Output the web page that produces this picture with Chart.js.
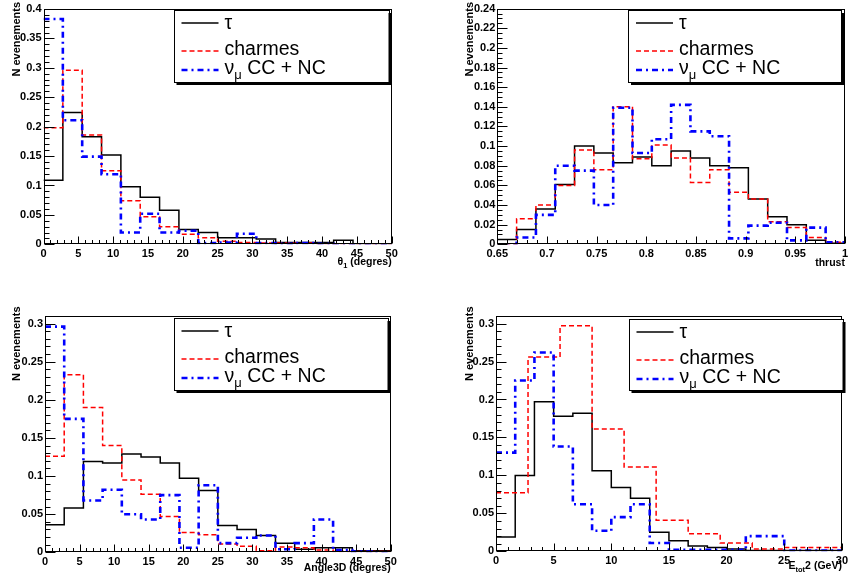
<!DOCTYPE html>
<html>
<head>
<meta charset="utf-8">
<script src="https://cdn.jsdelivr.net/npm/chart.js@4.4.1/dist/chart.umd.min.js"></script>
<style>
  body { margin: 0; background: #fff; width: 851px; height: 579px; position: relative; overflow: hidden; }
  canvas { position: absolute; }
</style>
</head>
<body>
<canvas id="p1" style="left:0;top:0" width="425" height="290"></canvas>
<canvas id="p2" style="left:440px;top:0" width="411" height="290"></canvas>
<canvas id="p3" style="left:0;top:290px" width="425" height="289"></canvas>
<canvas id="p4" style="left:440px;top:290px" width="411" height="289"></canvas>
<script>
// histogram contents, 18 bins each unless noted
const theta1Range = [0, 50];
const theta1Tau   = [0.109, 0.224, 0.183, 0.152, 0.098, 0.080, 0.058, 0.025, 0.020, 0.011, 0.011, 0.009, 0.003, 0.003, 0.003, 0.007, 0.001, 0.001];
const theta1Charm = [0.198, 0.296, 0.186, 0.125, 0.074, 0.047, 0.030, 0.017, 0.011, 0.005, 0.003, 0.002, 0.002, 0.002, 0.001, 0.001, 0.001, 0.001];
const theta1Numu  = [0.383, 0.211, 0.149, 0.119, 0.020, 0.052, 0.020, 0.023, 0.002, 0.003, 0.018, 0.002, 0.001, 0.002, 0.001, 0.000, 0.000, 0.000];

const thrustRange = [0.65, 1.0];
const thrustTau   = [0.005, 0.015, 0.036, 0.061, 0.100, 0.093, 0.083, 0.089, 0.080, 0.095, 0.088, 0.080, 0.078, 0.046, 0.028, 0.020, 0.004, 0.001];
const thrustCharm = [0.000, 0.026, 0.040, 0.060, 0.096, 0.076, 0.140, 0.087, 0.101, 0.088, 0.063, 0.076, 0.053, 0.046, 0.023, 0.017, 0.007, 0.002];
const thrustNumu  = [0.000, 0.007, 0.030, 0.080, 0.075, 0.040, 0.139, 0.093, 0.107, 0.142, 0.115, 0.110, 0.006, 0.019, 0.022, 0.004, 0.017, 0.002];

const angleRange = [0, 50];
const angleTau   = [0.036, 0.058, 0.119, 0.117, 0.129, 0.125, 0.117, 0.097, 0.081, 0.035, 0.030, 0.022, 0.012, 0.004, 0.006, 0.006, 0.002, 0.002];
const angleCharm = [0.126, 0.233, 0.190, 0.140, 0.095, 0.076, 0.047, 0.026, 0.023, 0.011, 0.008, 0.002, 0.007, 0.006, 0.003, 0.001, 0.001, 0.001];
const angleNumu  = [0.296, 0.175, 0.068, 0.082, 0.050, 0.043, 0.075, 0.006, 0.088, 0.012, 0.019, 0.022, 0.004, 0.012, 0.043, 0.003, 0.001, 0.000];

const etotRange = [0, 30];
const etotTau   = [0.019, 0.100, 0.197, 0.178, 0.182, 0.106, 0.084, 0.070, 0.025, 0.014, 0.007, 0.005, 0.003, 0.001, 0.001, 0.001, 0.001, 0.001];
const etotNumu  = [0.130, 0.225, 0.262, 0.138, 0.062, 0.027, 0.045, 0.062, 0.011, 0.002, 0.002, 0.002, 0.002, 0.020, 0.020, 0.001, 0.001, 0.001];
// charmes here was filled with 0-50 binning (18 bins), only the visible ones
const etotCharmRange = [0, 50];
const etotCharm = [0.077, 0.256, 0.297, 0.161, 0.111, 0.041, 0.023, 0.011, 0.003, 0.005, 0.005];

const legendLabels = ['τ', 'charmes', 'ν'];

// bin contents -> step points (left edge of each bin + closing right edge)
function steps(values, range, nbins) {
  const w = (range[1] - range[0]) / nbins;
  const pts = values.map((v, i) => ({ x: range[0] + i * w, y: v }));
  pts.push({ x: range[0] + values.length * w, y: values[values.length - 1] });
  return pts;
}

const styles = {
  tau:   { borderColor: '#000000', borderWidth: 1.5, borderDash: [] },
  charm: { borderColor: '#ff0000', borderWidth: 1.5, borderDash: [5, 3] },
  numu:  { borderColor: '#0000ff', borderWidth: 2.6, borderDash: [6, 4, 2, 4] }
};

const fmt = v => String(+Number(v).toFixed(3));

const rootDecor = {
  id: 'rootDecor',
  afterDatasetsDraw(chart, args, o) {
    const { ctx, chartArea: a, scales: { x, y } } = chart;
    ctx.save();
    ctx.strokeStyle = '#000';
    ctx.lineWidth = 1;
    const L = Math.round(a.left) + 0.5, R = Math.round(a.right) - 0.5;
    const T = Math.round(a.top) + 0.5, B = Math.round(a.bottom) - 0.5;
    ctx.strokeRect(L, T, R - L, B - T);
    ctx.beginPath();
    // x ticks (inside)
    const xMajLen = 7, xMinLen = 3.5, yMajLen = 10, yMinLen = 5;
    for (let v = x.min; v <= x.max + 1e-9; v += o.xMinor) {
      const px = Math.round(x.getPixelForValue(v)) + 0.5;
      const isMaj = Math.abs(v / o.xMajor - Math.round(v / o.xMajor)) < 1e-6;
      ctx.moveTo(px, B); ctx.lineTo(px, B - (isMaj ? xMajLen : xMinLen));
    }
    for (let v = y.min; v <= y.max + 1e-9; v += o.yMinor) {
      const py = Math.round(y.getPixelForValue(v)) + 0.5;
      const isMaj = Math.abs(v / o.yMajor - Math.round(v / o.yMajor)) < 1e-6;
      ctx.moveTo(L, py); ctx.lineTo(L + (isMaj ? yMajLen : yMinLen), py);
    }
    ctx.stroke();

    // axis titles
    ctx.fillStyle = '#000';
    ctx.font = 'bold 11px "Liberation Sans", Arial, sans-serif';
    ctx.save();
    ctx.translate(o.yTitleX, o.yTitleTop);
    ctx.rotate(-Math.PI / 2);
    ctx.textAlign = 'right';
    ctx.textBaseline = 'alphabetic';
    ctx.fillText('N evenements', 0, 0);
    ctx.restore();
    drawRich(ctx, o.xTitle, a.right, o.xTitleY, 'bold 10.5px "Liberation Sans", Arial, sans-serif',
      'bold 7.5px "Liberation Sans", Arial, sans-serif', 3, 'right');

    // legend box with shadow
    const g = o.legend;
    ctx.fillStyle = '#000';
    ctx.fillRect(g.x + 3, g.y + 3, g.w, g.h);
    ctx.fillStyle = '#fff';
    ctx.fillRect(g.x, g.y, g.w, g.h);
    ctx.strokeRect(Math.round(g.x) + 0.5, Math.round(g.y) + 0.5, Math.round(g.w), Math.round(g.h));
    const rows = [
      { st: styles.tau, ly: 13, ty: 19, text: [[legendLabels[0], false]] },
      { st: styles.charm, ly: 41, ty: 45, text: [[legendLabels[1], false]] },
      { st: styles.numu, ly: 60, ty: 64, text: [[legendLabels[2], false], ['μ', true], [' CC + NC', false]] }
    ];
    rows.forEach(r => {
      ctx.save();
      ctx.strokeStyle = r.st.borderColor;
      ctx.lineWidth = r.st.borderWidth;
      ctx.setLineDash(r.st.borderDash);
      ctx.beginPath();
      ctx.moveTo(g.x + 8, g.y + r.ly);
      ctx.lineTo(g.x + 45, g.y + r.ly);
      ctx.stroke();
      ctx.restore();
      ctx.fillStyle = '#000';
      drawRich(ctx, r.text, g.x + 51, g.y + r.ty, '19.5px "Liberation Sans", Arial, sans-serif',
        '13px "Liberation Sans", Arial, sans-serif', 5, 'left');
    });
    ctx.restore();
  }
};

function drawRich(ctx, segs, xRef, yBase, font, subFont, subDrop, align) {
  let total = 0;
  const widths = segs.map(([t, sub]) => { ctx.font = sub ? subFont : font; const w = ctx.measureText(t).width; total += w; return w; });
  let xp = align === 'right' ? xRef - total : xRef;
  ctx.textAlign = 'left';
  ctx.textBaseline = 'alphabetic';
  segs.forEach(([t, sub], i) => {
    ctx.font = sub ? subFont : font;
    ctx.fillText(t, xp, yBase + (sub ? subDrop : 0));
    xp += widths[i];
  });
}

function makePanel(id, p) {
  const ds = [
    Object.assign({ data: p.tau, order: 3 }, styles.tau),
    Object.assign({ data: p.charm, order: 2 }, styles.charm),
    Object.assign({ data: p.numu, order: 1 }, styles.numu)
  ].map(d => Object.assign(d, { stepped: true, pointRadius: 0, fill: false, tension: 0 }));
  const tickFont = { family: '"Liberation Sans", Arial, sans-serif', size: 11, weight: 'bold' };
  return new Chart(document.getElementById(id), {
    type: 'line',
    data: { datasets: ds },
    options: {
      responsive: false,
      animation: false,
      devicePixelRatio: 1,
      parsing: false,
      layout: { padding: { left: 0, top: p.padTop, right: p.padRight, bottom: 0 } },
      plugins: { legend: { display: false }, tooltip: { enabled: false }, rootDecor: p.decor },
      scales: {
        x: {
          type: 'linear', min: p.xRange[0], max: p.xRange[1],
          grid: { display: false, drawTicks: false }, border: { display: false },
          ticks: { stepSize: p.decor.xMajor, includeBounds: false, maxRotation: 0, autoSkip: false,
                   color: '#000', font: tickFont, padding: 3, callback: fmt },
          afterFit(s) { s.height = p.xAxisH; }
        },
        y: {
          type: 'linear', min: 0, max: p.yMax,
          grid: { display: false, drawTicks: false }, border: { display: false },
          ticks: { stepSize: p.decor.yMajor, includeBounds: false, autoSkip: false,
                   color: '#000', font: tickFont, padding: 2, callback: fmt },
          afterFit(s) { s.width = p.yAxisW; }
        }
      }
    },
    plugins: [rootDecor]
  });
}

makePanel('p1', {
  tau: steps(theta1Tau, theta1Range, 18), charm: steps(theta1Charm, theta1Range, 18), numu: steps(theta1Numu, theta1Range, 18),
  xRange: theta1Range, yMax: 0.4, padTop: 9, padRight: 33.3, yAxisW: 43.5, xAxisH: 45.7,
  decor: { xMajor: 5, xMinor: 1, yMajor: 0.05, yMinor: 0.01, xTitle: [['θ', false], ['1', true], [' (degres)', false]],
           xTitleY: 265, yTitleX: 20, yTitleTop: 2, legend: { x: 173.5, y: 10, w: 215, h: 72 } }
});
makePanel('p2', {
  tau: steps(thrustTau, thrustRange, 18), charm: steps(thrustCharm, thrustRange, 18), numu: steps(thrustNumu, thrustRange, 18),
  xRange: thrustRange, yMax: 0.24, padTop: 7.3, padRight: 6, yAxisW: 57.3, xAxisH: 45.7,
  decor: { xMajor: 0.05, xMinor: 0.01, yMajor: 0.02, yMinor: 0.005, xTitle: [['thrust', false]],
           xTitleY: 266, yTitleX: 33, yTitleTop: 2, legend: { x: 188, y: 10, w: 213, h: 72 } }
});
makePanel('p3', {
  tau: steps(angleTau, angleRange, 18), charm: steps(angleCharm, angleRange, 18), numu: steps(angleNumu, angleRange, 18),
  xRange: angleRange, yMax: 0.31, padTop: 26, padRight: 34.3, yAxisW: 45, xAxisH: 26.7,
  decor: { xMajor: 5, xMinor: 1, yMajor: 0.05, yMinor: 0.01, xTitle: [['Angle3D (degres)', false]],
           xTitleY: 281, yTitleX: 20, yTitleTop: 16.5, legend: { x: 173.5, y: 28, w: 214, h: 72 } }
});
makePanel('p4', {
  tau: steps(etotTau, etotRange, 18), charm: steps(etotCharm, etotCharmRange, 18), numu: steps(etotNumu, etotRange, 18),
  xRange: etotRange, yMax: 0.31, padTop: 26, padRight: 6, yAxisW: 56, xAxisH: 27.7,
  decor: { xMajor: 5, xMinor: 1, yMajor: 0.05, yMinor: 0.01, xTitle: [['E', false], ['tot', true], ['2 (GeV)', false]],
           xTitleY: 279, yTitleX: 33, yTitleTop: 16.5, legend: { x: 188.5, y: 29, w: 214, h: 71 } }
});
</script>
</body>
</html>
